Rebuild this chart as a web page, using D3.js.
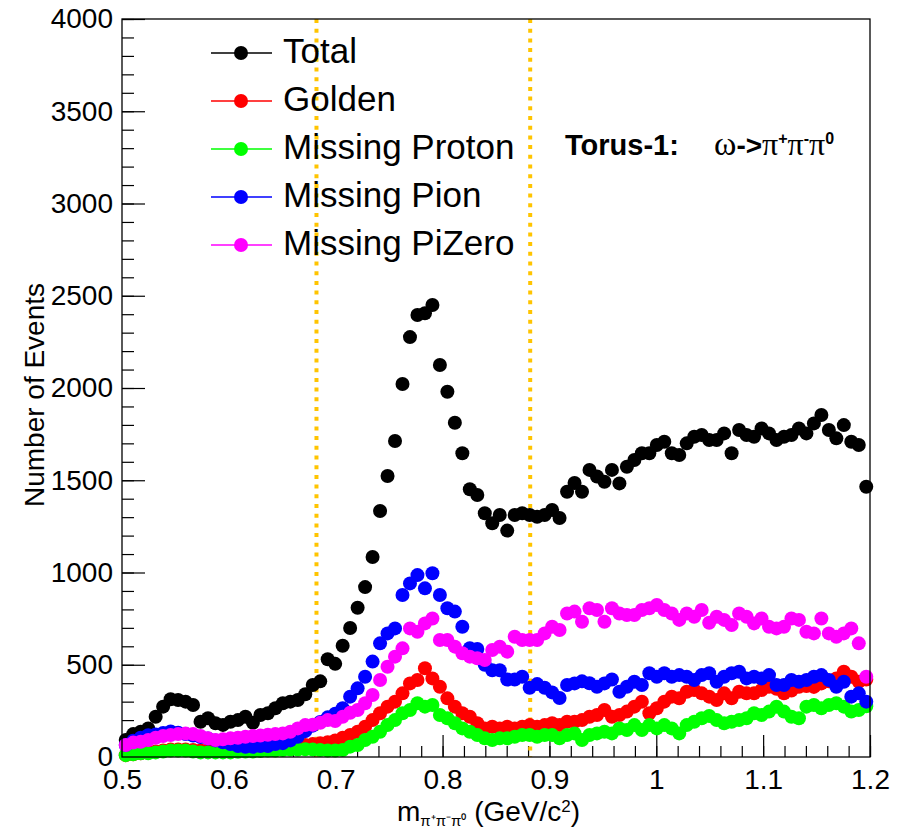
<!DOCTYPE html>
<html>
<head>
<meta charset="utf-8">
<script src="https://cdn.jsdelivr.net/npm/d3@7"></script>
<style>
  body { margin: 0; background: #fff; }
</style>
</head>
<body>
<svg id="chart"></svg>
<script>
// histogram binning: 100 bins from 0.5 to 1.2 GeV/c^2
const xLow = 0.5;
const xHigh = 1.2;
const nBins = 100;

const xTickValues = [0.5, 0.6, 0.7, 0.8, 0.9, 1.0, 1.1, 1.2];
const xTickLabels = ["0.5", "0.6", "0.7", "0.8", "0.9", "1", "1.1", "1.2"];
const yTickValues = [0, 500, 1000, 1500, 2000, 2500, 3000, 3500, 4000];
const yTickLabels = ["0", "500", "1000", "1500", "2000", "2500", "3000", "3500", "4000"];

// omega mass window (dotted lines)
const cutLines = [0.682, 0.882];

const seriesNames = ["Total", "Golden", "Missing Proton", "Missing Pion", "Missing PiZero"];

const total = [
  92, 124, 137, 155, 218, 273, 313, 309, 300, 282,
  191, 210, 183, 174, 191, 200, 218, 186, 228, 237,
  264, 291, 300, 309, 340, 390, 410, 530, 505, 603,
  699, 809, 921, 1084, 1333, 1523, 1713, 2022, 2276, 2396,
  2405, 2450, 2125, 1980, 1812, 1646, 1451, 1420, 1321, 1267,
  1312, 1227, 1312, 1321, 1312, 1302, 1312, 1339, 1295, 1438,
  1485, 1438, 1556, 1520, 1492, 1556, 1483, 1573, 1610, 1646,
  1646, 1691, 1709, 1646, 1637, 1700, 1736, 1745, 1718, 1718,
  1754, 1646, 1772, 1745, 1736, 1781, 1754, 1718, 1736, 1745,
  1781, 1754, 1808, 1854, 1772, 1727, 1799, 1709, 1691, 1465
];

const golden = [
  10, 15, 20, 25, 30, 35, 40, 40, 40, 38,
  35, 35, 35, 35, 38, 40, 40, 42, 45, 48,
  50, 52, 55, 60, 65, 70, 75, 80, 90, 105,
  119, 137, 164, 200, 237, 273, 300, 345, 399, 417,
  481, 426, 381, 318, 273, 237, 218, 183, 155, 164,
  155, 164, 155, 164, 173, 164, 173, 183, 173, 191,
  191, 200, 218, 228, 255, 218, 228, 246, 273, 300,
  237, 264, 300, 327, 318, 354, 363, 345, 327, 309,
  345, 318, 354, 345, 345, 363, 381, 370, 345, 360,
  381, 385, 380, 399, 410, 426, 462, 435, 408, 420
];

const missingProton = [
  10, 15, 20, 20, 25, 30, 35, 35, 35, 30,
  25, 25, 25, 25, 25, 28, 30, 30, 32, 35,
  35, 38, 40, 40, 42, 40, 38, 35, 35, 38,
  56, 65, 92, 110, 137, 173, 200, 237, 255, 291,
  273, 282, 228, 210, 183, 155, 137, 119, 101, 92,
  101, 101, 110, 119, 119, 110, 119, 119, 101, 119,
  128, 92, 119, 128, 137, 128, 155, 146, 173, 146,
  173, 155, 173, 155, 128, 173, 191, 210, 222, 200,
  183, 191, 200, 210, 237, 228, 246, 273, 246, 218,
  210, 273, 282, 264, 282, 291, 273, 246, 255, 275
];

const missingPion = [
  65, 88, 105, 118, 122, 130, 138, 132, 124, 116,
  108, 100, 90, 80, 70, 60, 55, 55, 60, 60,
  70, 75, 90, 110, 140, 170, 190, 215, 235, 264,
  327, 372, 435, 517, 616, 670, 697, 878, 941, 986,
  914, 996, 878, 806, 788, 706, 590, 585, 500, 470,
  470, 420, 420, 435, 375, 395, 375, 350, 320, 390,
  399, 410, 400, 381, 399, 420, 354, 381, 408, 390,
  454, 435, 454, 435, 444, 435, 417, 444, 454, 408,
  435, 454, 462, 426, 435, 426, 444, 390, 390, 417,
  408, 417, 435, 444, 417, 381, 408, 327, 345, 300
];

const missingPiZero = [
  65, 78, 83, 92, 104, 114, 119, 124, 128, 124,
  114, 101, 92, 96, 101, 104, 110, 114, 116, 121,
  124, 128, 137, 155, 173, 175, 185, 200, 195, 218,
  240, 255, 291, 336, 417, 489, 544, 589, 697, 679,
  724, 751, 634, 634, 598, 562, 544, 535, 526, 580,
  598, 571, 652, 634, 634, 634, 670, 706, 688, 778,
  788, 733, 806, 797, 733, 806, 778, 770, 770, 797,
  806, 824, 797, 778, 743, 778, 760, 797, 728, 760,
  743, 715, 778, 760, 724, 751, 706, 697, 706, 751,
  743, 679, 670, 751, 670, 652, 670, 697, 616, 435
];

const seriesValues = [total, golden, missingProton, missingPion, missingPiZero];
const seriesColors = ["#000000", "#ff0000", "#00ff00", "#0000ff", "#ff00ff"];

const sansFont = "Liberation Sans, Arial, Helvetica, sans-serif";
const serifFont = "Liberation Serif, DejaVu Serif, serif";

function drawChart(svgSelector, width, height) {
  const svg = d3.select(svgSelector)
    .attr("width", width)
    .attr("height", height)
    .attr("viewBox", `0 0 ${width} ${height}`)
    .attr("font-family", sansFont);

  svg.append("rect")
    .attr("width", width)
    .attr("height", height)
    .attr("fill", "#fff");

  const margin = { top: 19, right: 33, bottom: 72, left: 122 };
  const chartWidth = width - margin.left - margin.right;
  const chartHeight = height - margin.top - margin.bottom;

  const g = svg.append("g")
    .attr("transform", `translate(${margin.left},${margin.top})`);

  const x = d3.scaleLinear()
    .domain([xLow, xHigh])
    .range([0, chartWidth]);

  const y = d3.scaleLinear()
    .domain([0, 4000])
    .range([chartHeight, 0]);

  const binWidth = (xHigh - xLow) / nBins;
  const binCenters = d3.range(nBins).map(i => xLow + binWidth * (i + 0.5));

  // minor ticks
  g.append("g")
    .attr("transform", `translate(0,${chartHeight})`)
    .call(d3.axisBottom(x).tickValues(d3.range(0, 36).map(i => xLow + i * 0.02)).tickSize(-11).tickFormat(""))
    .call(a => a.select(".domain").remove());
  g.append("g")
    .call(d3.axisLeft(y).tickValues(d3.range(0, 41).map(i => i * 100)).tickSize(-12).tickFormat(""))
    .call(a => a.select(".domain").remove());

  // major ticks
  const xAxis = g.append("g")
    .attr("transform", `translate(0,${chartHeight})`)
    .call(d3.axisBottom(x).tickValues(xTickValues).tickSize(-22).tickPadding(12)
      .tickFormat((d, i) => xTickLabels[i]));
  xAxis.select(".domain").remove();

  const yAxis = g.append("g")
    .call(d3.axisLeft(y).tickValues(yTickValues).tickSize(-23).tickPadding(9)
      .tickFormat((d, i) => yTickLabels[i]));
  yAxis.select(".domain").remove();

  svg.selectAll(".tick line").attr("stroke", "#000").attr("stroke-width", 1.2);
  svg.selectAll(".tick text")
    .attr("font-size", 28)
    .attr("fill", "#000")
    .attr("font-family", sansFont);

  // dotted mass window lines
  g.selectAll(".cut")
    .data(cutLines)
    .enter().append("line")
    .attr("x1", d => x(d))
    .attr("x2", d => x(d))
    .attr("y1", 0)
    .attr("y2", chartHeight)
    .attr("stroke", "#ffc400")
    .attr("stroke-width", 4)
    .attr("stroke-dasharray", "4,5.7");

  // markers
  seriesValues.forEach((vals, s) => {
    g.append("g")
      .selectAll("circle")
      .data(vals)
      .enter().append("circle")
      .attr("cx", (d, i) => x(binCenters[i]))
      .attr("cy", d => y(d))
      .attr("r", 7)
      .attr("fill", seriesColors[s]);
  });

  // frame
  g.append("rect")
    .attr("width", chartWidth)
    .attr("height", chartHeight)
    .attr("fill", "none")
    .attr("stroke", "#000")
    .attr("stroke-width", 1.3);

  // legend
  const legend = svg.append("g").attr("transform", "translate(211,53)");
  seriesNames.forEach((name, i) => {
    const row = legend.append("g").attr("transform", `translate(0,${i * 48})`);
    row.append("line")
      .attr("x1", 0).attr("x2", 61)
      .attr("y1", 0).attr("y2", 0)
      .attr("stroke", seriesColors[i])
      .attr("stroke-width", 1.5);
    row.append("circle")
      .attr("cx", 30).attr("cy", 0).attr("r", 7)
      .attr("fill", seriesColors[i]);
    row.append("text")
      .attr("x", 72).attr("y", 10)
      .attr("font-size", 35)
      .text(name);
  });

  // annotation
  const note = svg.append("text")
    .attr("x", 565).attr("y", 155)
    .attr("font-size", 29);
  note.append("tspan").attr("font-weight", "bold").text("Torus-1:");
  note.append("tspan").attr("x", 714).attr("font-family", serifFont).attr("font-size", 34).text("ω");
  note.append("tspan").attr("font-weight", "bold").attr("font-size", 28).text("->");
  ["+", "-", "0"].forEach((sup, i) => {
    note.append("tspan")
      .attr("font-family", serifFont)
      .attr("font-size", 32)
      .attr("dy", i === 0 ? 0 : 11)
      .text("π");
    note.append("tspan")
      .attr("font-size", 16)
      .attr("font-weight", "bold")
      .attr("dy", -11)
      .text(sup);
  });

  // axis titles
  const xt = svg.append("text")
    .attr("x", 397).attr("y", 821)
    .attr("font-size", 28);
  xt.append("tspan").text("m");
  xt.append("tspan").attr("font-size", 15).attr("dy", 5).text("π⁺π⁻π⁰");
  xt.append("tspan").attr("dy", -5).text(" (GeV/c");
  xt.append("tspan").attr("font-size", 17).attr("dy", -9).text("2");
  xt.append("tspan").attr("dy", 9).text(")");

  svg.append("text")
    .attr("transform", "translate(44,395) rotate(-90)")
    .attr("text-anchor", "middle")
    .attr("font-size", 28)
    .text("Number of Events");
}

drawChart("#chart", 903, 829);
</script>
</body>
</html>
